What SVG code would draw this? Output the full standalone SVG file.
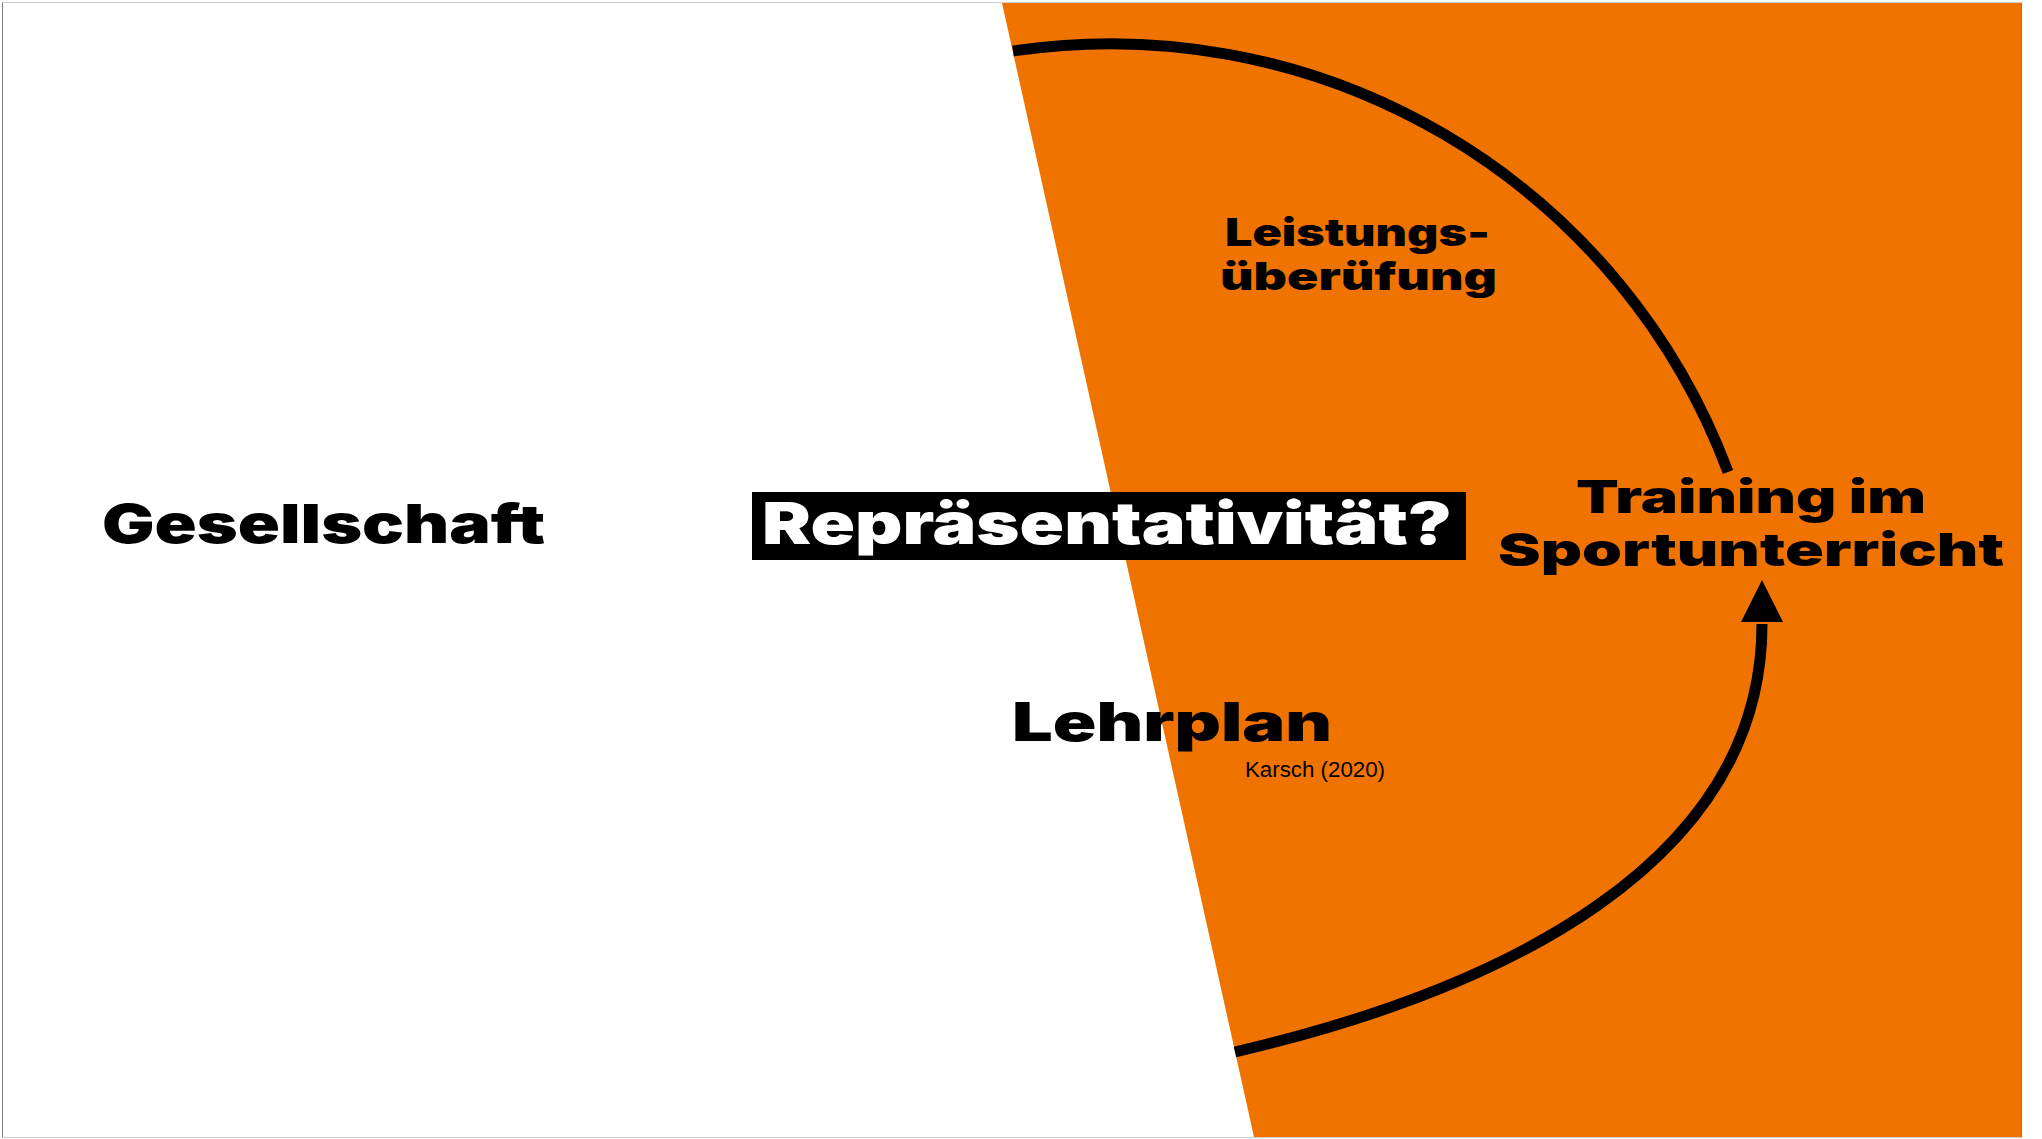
<svg xmlns="http://www.w3.org/2000/svg" width="2042" height="1139" viewBox="0 0 2042 1139">
  <style>
    .heavy { font-family: Inter, "Liberation Sans", Arial, sans-serif; font-weight: 900; fill: #000; }
    .inverse { fill: #fff; }
    .light { font-family: "Liberation Sans", Arial, sans-serif; font-weight: 400; fill: #000; }
    .flow { fill: none; stroke: #000; stroke-width: 11; }
  </style>

  <!-- page -->
  <rect x="0" y="0" width="2042" height="1139" fill="#fff"/>

  <!-- orange wedge on the right -->
  <polygon points="1002,3 2021,3 2021,1137 1254,1137" fill="#F07300"/>

  <!-- slide frame -->
  <g id="frame" stroke-width="1">
    <line x1="2.5" y1="2.5" x2="2021.5" y2="2.5" stroke="#d0d0d0"/>
    <line x1="2.5" y1="1137.5" x2="2021.5" y2="1137.5" stroke="#d0d0d0"/>
    <line x1="2.5" y1="2.5" x2="2.5" y2="1137.5" stroke="#7a7a7a"/>
    <line x1="2021.5" y1="2.5" x2="2021.5" y2="1137.5" stroke="#7a7a7a"/>
  </g>

  <!-- connectors -->
  <g id="connectors">
    <path id="arc-pruefung" class="flow" d="M1013,51 A659,659 0 0 1 1728,472"/>
    <path id="arc-lehrplan" class="flow" d="M1235,1052 C1500,990 1762,865 1762,624"/>
    <polygon id="arrowhead" points="1762,580 1741,622 1783,622" fill="#000"/>
  </g>

  <g id="node-gesellschaft">
    <text class="heavy" x="102" y="543" font-size="54" textLength="443" lengthAdjust="spacingAndGlyphs">Gesellschaft</text>
  </g>

  <g id="node-repraesentativitaet">
    <rect x="752" y="492" width="714" height="68" fill="#000"/>
    <text class="heavy inverse" x="762" y="544" font-size="58" textLength="690" lengthAdjust="spacingAndGlyphs">Repräsentativität?</text>
  </g>

  <g id="node-leistung">
    <text class="heavy" x="1225" y="246" font-size="38" textLength="265" lengthAdjust="spacingAndGlyphs">Leistungs-</text>
    <text class="heavy" x="1220" y="290" font-size="38" textLength="277" lengthAdjust="spacingAndGlyphs">überüfung</text>
  </g>

  <g id="node-training">
    <text class="heavy" x="1576" y="513" font-size="45" textLength="350" lengthAdjust="spacingAndGlyphs">Training im</text>
    <text class="heavy" x="1498" y="566" font-size="46" textLength="506" lengthAdjust="spacingAndGlyphs">Sportunterricht</text>
  </g>

  <g id="node-lehrplan">
    <text class="heavy" x="1012" y="741" font-size="53" textLength="320" lengthAdjust="spacingAndGlyphs">Lehrplan</text>
    <text class="light" x="1245" y="777" font-size="21.5" textLength="140" lengthAdjust="spacingAndGlyphs">Karsch (2020)</text>
  </g>
</svg>
